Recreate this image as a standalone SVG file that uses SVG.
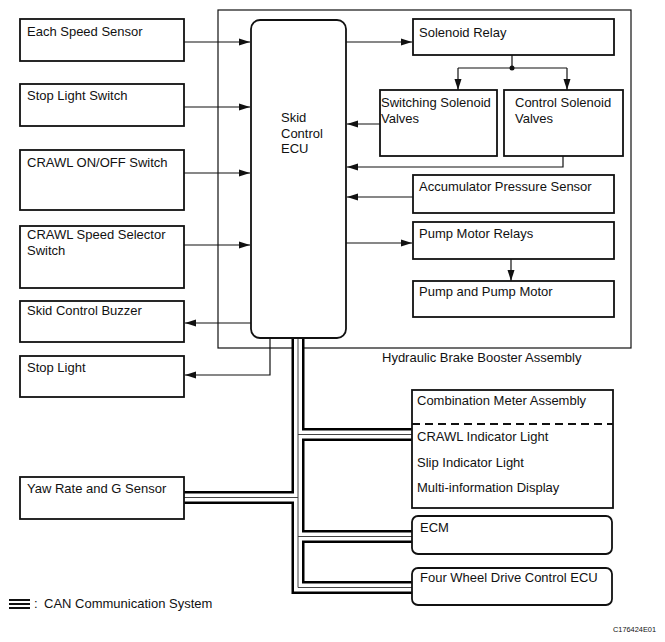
<svg xmlns="http://www.w3.org/2000/svg" width="665" height="642" viewBox="0 0 665 642">
<style>
.bx{fill:#fff;stroke:#111;stroke-width:1.8}
.asm{fill:none;stroke:#111;stroke-width:1.2}
.t{font-family:"Liberation Sans",Arial,sans-serif;font-size:13px;fill:#111}
.ln{fill:none;stroke:#111;stroke-width:1.2}
.a{marker-end:url(#ah)}
.bk{fill:none;stroke:#000;stroke-width:13;stroke-linejoin:miter}
.wh{fill:none;stroke:#fff;stroke-width:8;stroke-linejoin:miter}
.cl{fill:none;stroke:#444;stroke-width:1;stroke-linejoin:miter}
</style>
<defs>
<marker id="ah" markerUnits="userSpaceOnUse" markerWidth="11" markerHeight="8" refX="11" refY="4" orient="auto">
<path d="M0,0.5 L11,4 L0,7.5 z" fill="#111"/>
</marker>
<path id="bus" d="M298,338 V587.5 H412 M298,434.5 H412 M298,536.5 H412 M184,497.5 H298"/>
</defs>
<rect width="665" height="642" fill="#fff"/>

<g id="assembly">
<rect class="asm" x="218" y="10" width="413" height="338"/>
<text class="t" x="382" y="362">Hydraulic Brake Booster Assembly</text>
</g>

<g id="connectors">
<path class="ln a" d="M184,42 H250"/>
<path class="ln a" d="M184,107 H250"/>
<path class="ln a" d="M184,173 H250"/>
<path class="ln a" d="M184,245 H250"/>
<path class="ln a" d="M251,323 H185"/>
<path class="ln a" d="M270,338 V375 H185"/>
<path class="ln a" d="M346,42 H412"/>
<path class="ln" d="M512,55 V68 M458,68 H567"/>
<circle cx="512" cy="68" r="2.5" fill="#111"/>
<path class="ln a" d="M458,68 V90"/>
<path class="ln a" d="M567,68 V90"/>
<path class="ln a" d="M380,124 H347"/>
<path class="ln a" d="M563,156 V167 H347"/>
<path class="ln a" d="M413,197 H347"/>
<path class="ln a" d="M346,243 H412"/>
<path class="ln a" d="M511,259 V281"/>
<use href="#bus" class="bk"/>
<use href="#bus" class="wh"/>
<use href="#bus" class="cl"/>
</g>

<g id="ecu">
<rect class="bx" x="251" y="20" width="95" height="318" rx="9"/>
<text class="t" x="281" y="122">Skid</text>
<text class="t" x="281" y="138">Control</text>
<text class="t" x="281" y="153">ECU</text>
</g>

<g id="each-speed-sensor"><rect class="bx" x="20" y="19" width="164" height="42"/><text class="t" x="27" y="36">Each Speed Sensor</text></g>
<g id="stop-light-switch"><rect class="bx" x="20" y="84" width="164" height="42"/><text class="t" x="27" y="100">Stop Light Switch</text></g>
<g id="crawl-onoff"><rect class="bx" x="20" y="150" width="164" height="60"/><text class="t" x="27" y="167">CRAWL ON/OFF Switch</text></g>
<g id="crawl-speed"><rect class="bx" x="20" y="226" width="164" height="62"/><text class="t" x="27" y="239">CRAWL Speed Selector</text><text class="t" x="27" y="255">Switch</text></g>
<g id="buzzer"><rect class="bx" x="20" y="301" width="164" height="41"/><text class="t" x="27" y="315">Skid Control Buzzer</text></g>
<g id="stop-light"><rect class="bx" x="20" y="356" width="164" height="41"/><text class="t" x="27" y="372">Stop Light</text></g>
<g id="yaw"><rect class="bx" x="20" y="477" width="164" height="42"/><text class="t" x="27" y="493">Yaw Rate and G Sensor</text></g>

<g id="solenoid-relay"><rect class="bx" x="413" y="19" width="201" height="36"/><text class="t" x="419" y="37">Solenoid Relay</text></g>
<g id="switching-valves"><rect class="bx" x="380" y="90" width="117" height="66"/><text class="t" x="381" y="107">Switching Solenoid</text><text class="t" x="381" y="123">Valves</text></g>
<g id="control-valves"><rect class="bx" x="504" y="90" width="119" height="66"/><text class="t" x="515" y="107">Control Solenoid</text><text class="t" x="515" y="123">Valves</text></g>
<g id="accumulator"><rect class="bx" x="413" y="175" width="201" height="38"/><text class="t" x="419" y="191">Accumulator Pressure Sensor</text></g>
<g id="pump-relays"><rect class="bx" x="413" y="222" width="201" height="37"/><text class="t" x="419" y="238">Pump Motor Relays</text></g>
<g id="pump-motor"><rect class="bx" x="413" y="281" width="201" height="36"/><text class="t" x="419" y="296">Pump and Pump Motor</text></g>

<g id="combination-meter">
<rect class="bx" x="412" y="390" width="201" height="118"/>
<path d="M412,424 H613" stroke="#111" stroke-width="2" stroke-dasharray="8,5" fill="none"/>
<text class="t" x="417" y="405">Combination Meter Assembly</text>
<text class="t" x="417" y="441">CRAWL Indicator Light</text>
<text class="t" x="417" y="467">Slip Indicator Light</text>
<text class="t" x="417" y="492">Multi-information Display</text>
</g>
<g id="ecm"><rect class="bx" x="412" y="516" width="200" height="38" rx="6"/><text class="t" x="420" y="532">ECM</text></g>
<g id="four-wd"><rect class="bx" x="412" y="568" width="200" height="37" rx="6"/><text class="t" x="420" y="582">Four Wheel Drive Control ECU</text></g>

<g id="legend">
<path d="M9,600 H30 M9,604 H30 M9,608 H30" stroke="#111" stroke-width="1.8" fill="none"/>
<text class="t" x="34" y="608">:</text>
<text class="t" x="44" y="608">CAN Communication System</text>
</g>
<text x="613" y="632" font-family="Liberation Sans,Arial,sans-serif" font-size="8" fill="#111" textLength="43" lengthAdjust="spacingAndGlyphs">C176424E01</text>
</svg>
